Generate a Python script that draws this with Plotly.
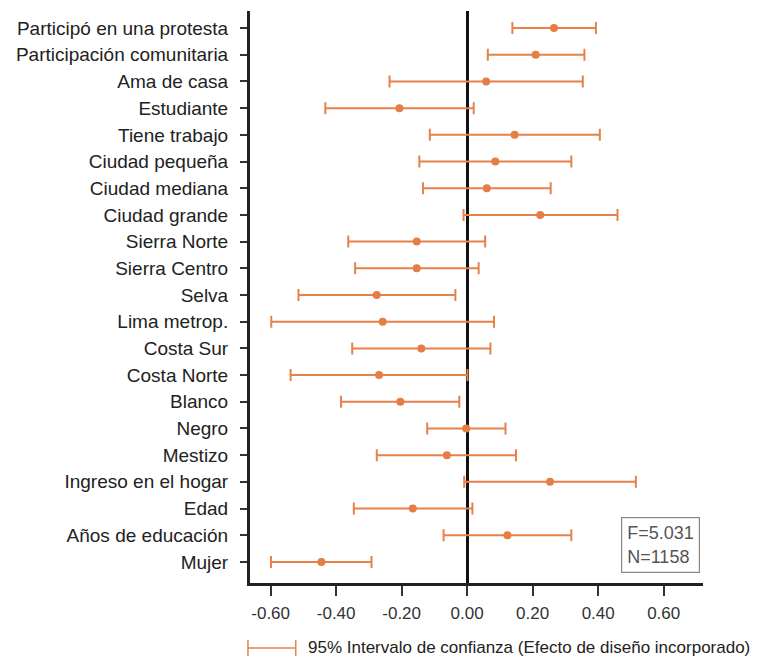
import plotly.graph_objects as go

categories = ["Participó en una protesta", "Participación comunitaria", "Ama de casa",
              "Estudiante", "Tiene trabajo", "Ciudad pequeña", "Ciudad mediana",
              "Ciudad grande", "Sierra Norte", "Sierra Centro", "Selva", "Lima metrop.",
              "Costa Sur", "Costa Norte", "Blanco", "Negro", "Mestizo",
              "Ingreso en el hogar", "Edad", "Años de educación", "Mujer"]
estimates = [0.265, 0.209, 0.058, -0.207, 0.145, 0.086, 0.060, 0.223, -0.154, -0.154,
             -0.276, -0.258, -0.140, -0.269, -0.204, -0.003, -0.062, 0.253, -0.166,
             0.123, -0.445]
ci_low = [0.138, 0.063, -0.237, -0.433, -0.114, -0.146, -0.135, -0.011, -0.363, -0.342,
          -0.515, -0.598, -0.351, -0.539, -0.385, -0.122, -0.276, -0.009, -0.346,
          -0.072, -0.599]
ci_high = [0.393, 0.358, 0.353, 0.020, 0.405, 0.318, 0.255, 0.459, 0.055, 0.035,
           -0.036, 0.082, 0.071, 0.001, -0.024, 0.117, 0.149, 0.515, 0.016,
           0.318, -0.292]
x_ticks = [-0.6, -0.4, -0.2, 0.0, 0.2, 0.4, 0.6]
x_tick_labels = ["-0.60", "-0.40", "-0.20", "0.00", "0.20", "0.40", "0.60"]
stats_text = "F=5.031<br>N=1158"
legend_text = "95% Intervalo de confianza (Efecto de diseño incorporado)"

orange = "#E8804A"
sans = "Liberation Sans, Arial, Helvetica, sans-serif"

fig = go.Figure()
fig.add_trace(go.Scatter(
    x=estimates, y=categories, mode="markers",
    marker=dict(color="#E67D45", size=8),
    error_x=dict(type="data", symmetric=False,
                 array=[h - e for h, e in zip(ci_high, estimates)],
                 arrayminus=[e - l for e, l in zip(estimates, ci_low)],
                 color=orange, thickness=2, width=6),
    showlegend=False, hoverinfo="skip"))

# page body has an 8px margin; figure sized so plot area lands on the reference
fig.update_layout(
    width=752, height=649,
    margin=dict(l=242, r=57, t=3, b=74, autoexpand=False),
    paper_bgcolor="white", plot_bgcolor="white",
    font=dict(family=sans, color="#222"),
    xaxis=dict(range=[-0.663, 0.72], tickvals=x_ticks, ticktext=x_tick_labels,
               showgrid=False, zeroline=True, zerolinecolor="#111", zerolinewidth=3,
               showline=True, linecolor="#222", linewidth=3, automargin=False,
               ticks="outside", ticklen=10, tickwidth=1.5, tickcolor="#333",
               tickfont=dict(size=17, color="#333"), ticklabelstandoff=3),
    yaxis=dict(type="category", categoryorder="array", categoryarray=categories,
               range=[20.79, -0.64], showgrid=False, zeroline=False,
               showline=True, linecolor="#222", linewidth=3, automargin=False,
               ticks="outside", ticklen=7, tickwidth=1.5, tickcolor="#333",
               tickfont=dict(size=19, color="#222"), ticklabelstandoff=8),
)

# F / N stats box
fig.add_annotation(xref="paper", yref="paper", x=0.993, y=0.018,
                   xanchor="right", yanchor="bottom", text=stats_text, showarrow=False,
                   align="left", font=dict(size=18, color="#555"),
                   bordercolor="#888", borderwidth=1.2, borderpad=5, bgcolor="white")

# Legend (error bar symbol + text)
lc = orange
ly = -0.1136
fig.add_shape(type="line", xref="paper", yref="paper", x0=-0.0045, x1=0.101,
              y0=ly, y1=ly, line=dict(color=lc, width=1.5))
for xx in (-0.0045, 0.101):
    fig.add_shape(type="line", xref="paper", yref="paper", x0=xx, x1=xx,
                  y0=ly + 0.014, y1=ly - 0.014, line=dict(color=lc, width=1.5))
fig.add_annotation(xref="paper", yref="paper", x=0.124, y=ly, xanchor="left",
                   yanchor="middle", text=legend_text, showarrow=False,
                   font=dict(size=17, color="#222"))

fig.write_html("out.html")
